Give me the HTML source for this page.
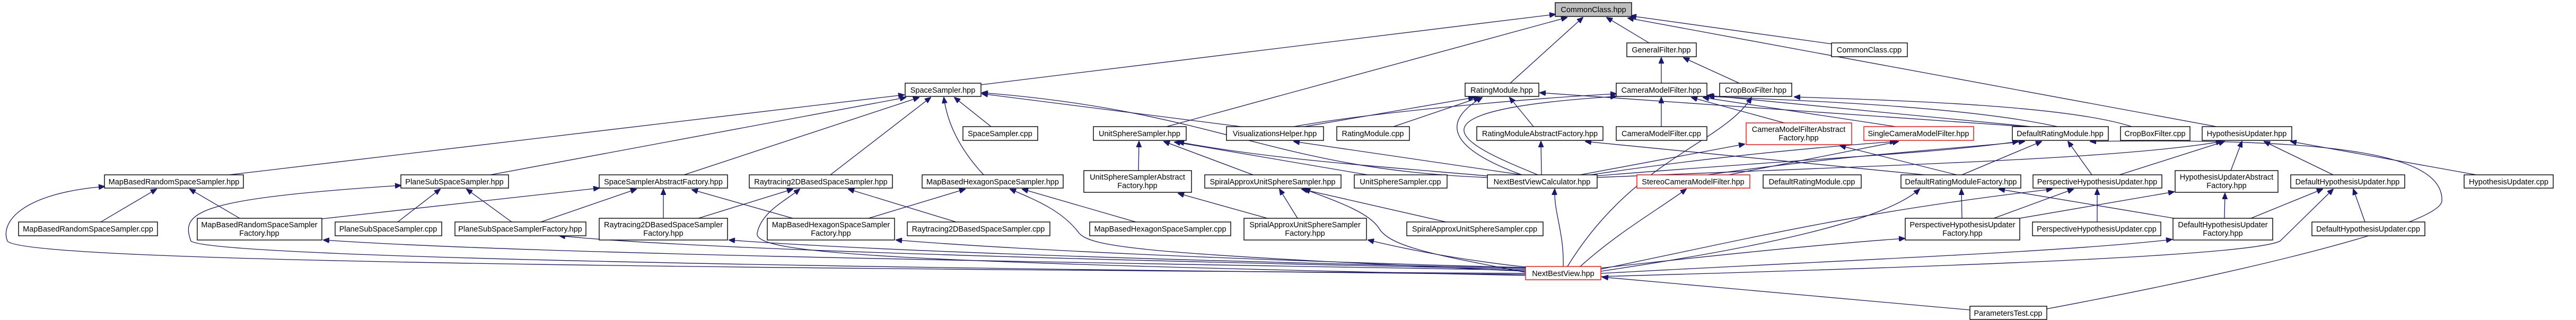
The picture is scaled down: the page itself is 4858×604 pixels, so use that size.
<!DOCTYPE html>
<html><head><meta charset="utf-8"><style>
html,body{margin:0;padding:0;background:#fff;}
svg{display:block;}
text{font-family:"Liberation Sans",sans-serif;font-size:14.5px;fill:#000;}
.e{fill:none;stroke:#191970;stroke-width:1.3;marker-end:url(#a);}
.n{fill:#fff;stroke:#000;stroke-width:1.4;}
.r{fill:#fff;stroke:#ff0000;stroke-width:1.4;}
</style></head><body>
<svg width="4858" height="604" viewBox="0 0 4858 604" xmlns="http://www.w3.org/2000/svg">
<defs><marker id="a" markerWidth="12" markerHeight="10" refX="11" refY="5" orient="auto" markerUnits="userSpaceOnUse"><path d="M0,0 L12,5 L0,10 z" fill="#191970" stroke="#191970"/></marker></defs>
<g>
<!-- CommonClass -->
<path class="e" d="M1850,160 L2933,27"/>
<path class="e" d="M2200,239 L2955,33"/>
<path class="e" d="M2848,157 L2985,33"/>
<path class="e" d="M3110,81 L3030,33"/>
<path class="e" d="M3455,83 L3075,30"/>
<path class="e" d="M4180,239 L3070,34"/>
<!-- GeneralFilter -->
<path class="e" d="M3133,157 L3133,109"/>
<path class="e" d="M3280,157 L3175,109"/>
<!-- SpaceSampler -->
<path class="e" d="M432,330 L1705,179"/>
<path class="e" d="M925,330 L1708,184"/>
<path class="e" d="M1290,330 L1733,184"/>
<path class="e" d="M1566,330 L1755,184"/>
<path class="e" d="M1855,330 Q1790,260 1780,184"/>
<path class="e" d="M1869,239 L1800,184"/>
<path class="e" d="M2340,239 L1852,177"/>
<path class="e" d="M2805,335 C2400,320 2300,210 1852,175"/>
<!-- MBRSS -->
<path class="e" d="M190,419 L295,357"/>
<path class="e" d="M452,412 L358,357"/>
<path class="e" d="M2877,516 C1000,505 40,490 14,455 C0,420 40,365 197,352"/>
<!-- PSSS -->
<path class="e" d="M750,419 L830,357"/>
<path class="e" d="M965,419 L880,357"/>
<path class="e" d="M2877,518 C1500,505 400,485 360,455 C340,400 370,375 756,350"/>
<!-- SSAF -->
<path class="e" d="M607,413 L1130,355"/>
<path class="e" d="M1020,419 L1200,357"/>
<path class="e" d="M1251,412 L1251,357"/>
<path class="e" d="M1495,412 L1305,358"/>
<!-- R2D -->
<path class="e" d="M1317,412 L1495,357"/>
<path class="e" d="M1803,419 L1600,357"/>
<path class="e" d="M2877,520 C1700,495 1420,480 1428,440 C1436,400 1480,380 1508,357"/>
<!-- MBH -->
<path class="e" d="M1638,412 L1820,357"/>
<path class="e" d="M2142,419 L1928,357"/>
<path class="e" d="M2877,512 C2200,480 2060,470 2035,440 C2005,400 1960,380 1905,357"/>
<!-- USS -->
<path class="e" d="M2147,322 L2148,267"/>
<path class="e" d="M2363,330 L2195,267"/>
<path class="e" d="M2579,330 L2215,268"/>
<path class="e" d="M2805,332 C2550,310 2400,300 2222,268"/>
<path class="e" d="M2390,412 L2222,365"/>
<!-- SAUSS -->
<path class="e" d="M2447,412 L2413,357"/>
<path class="e" d="M2727,419 L2455,357"/>
<path class="e" d="M2877,514 C2700,480 2620,465 2600,430 C2580,400 2520,380 2460,357"/>
<!-- RatingModule -->
<path class="e" d="M2460,239 L2780,184"/>
<path class="e" d="M2628,239 L2790,184"/>
<path class="e" d="M2892,239 L2847,184"/>
<path class="e" d="M2870,330 C2760,290 2700,240 2795,184"/>
<path class="e" d="M3820,239 L2904,175"/>
<!-- CameraModelFilter -->
<path class="e" d="M2440,239 C2600,210 2900,185 3048,177"/>
<path class="e" d="M3133,239 L3133,184"/>
<path class="e" d="M3365,232 L3190,184"/>
<path class="e" d="M3575,239 L3212,184"/>
<path class="e" d="M2900,330 C2780,280 2600,210 3048,182"/>
<path class="e" d="M3830,239 L3220,180"/>
<path class="e" d="M3880,239 C3700,200 3400,190 3222,182"/>
<!-- CropBox -->
<path class="e" d="M4020,239 C3900,200 3600,190 3384,183"/>
<path class="e" d="M2956,503 C3080,300 3250,270 3303,184"/>
<!-- RMAF / VH -->
<path class="e" d="M2907,330 L2906,267"/>
<path class="e" d="M3630,330 L2990,267"/>
<path class="e" d="M2870,330 L2440,267"/>
<!-- CMFAF / SCMF -->
<path class="e" d="M2980,330 L3290,272"/>
<path class="e" d="M3690,330 L3470,275"/>
<path class="e" d="M3260,330 L3580,267"/>
<path class="e" d="M3000,330 C3200,300 3400,280 3575,267"/>
<!-- NBVC / Stereo -->
<path class="e" d="M2948,503 C2950,440 2930,400 2932,357"/>
<path class="e" d="M2980,503 C3050,440 3120,400 3180,357"/>
<!-- DRM -->
<path class="e" d="M3700,330 L3850,267"/>
<path class="e" d="M3945,330 L3900,267"/>
<path class="e" d="M3010,332 C3400,300 3650,290 3806,267"/>
<path class="e" d="M3220,330 C3500,290 3700,280 3818,267"/>
<path class="e" d="M3860,583 C4300,500 4600,420 4605,380 C4610,290 4400,260 3942,267"/>
<!-- HU -->
<path class="e" d="M3997,330 L4195,267"/>
<path class="e" d="M4207,322 L4228,267"/>
<path class="e" d="M4400,330 L4270,267"/>
<path class="e" d="M4670,330 L4320,267"/>
<path class="e" d="M3012,335 C3600,310 4000,300 4190,267"/>
<!-- DRMF -->
<path class="e" d="M3700,412 L3699,357"/>
<path class="e" d="M4100,412 L3770,357"/>
<path class="e" d="M3019,512 C3300,470 3550,420 3620,357"/>
<!-- PHU -->
<path class="e" d="M3760,412 L3910,357"/>
<path class="e" d="M3955,419 L3955,357"/>
<path class="e" d="M3019,508 C3300,450 3500,400 3870,357"/>
<!-- HUAF -->
<path class="e" d="M4195,412 L4196,365"/>
<path class="e" d="M3809,412 L4100,362"/>
<!-- DHU -->
<path class="e" d="M4245,412 L4380,357"/>
<path class="e" d="M4460,419 L4438,357"/>
<path class="e" d="M3019,522 C3800,500 4250,480 4300,455 L4400,357"/>
<!-- NBV -> factories -->
<path class="e" d="M2877,510 C2000,495 1000,480 610,453"/>
<path class="e" d="M2877,508 C2000,490 1300,470 1055,445"/>
<path class="e" d="M2877,506 C2100,490 1600,470 1375,453"/>
<path class="e" d="M2877,505 C2300,490 1900,470 1690,453"/>
<path class="e" d="M2877,504 C2750,490 2650,470 2580,453"/>
<path class="e" d="M3019,506 C3250,480 3450,460 3592,450"/>
<path class="e" d="M3019,516 C3500,490 3900,475 4096,452"/>
<path class="e" d="M3715,585 L3022,523"/>
</g>
<g>
<rect class="n" x="2933" y="5" width="144" height="26" style="fill:#bfbfbf"/><text x="3005" y="23" text-anchor="middle">CommonClass.hpp</text>
<rect class="n" x="3068" y="81" width="131" height="26"/><text x="3133" y="99" text-anchor="middle">GeneralFilter.hpp</text>
<rect class="n" x="3454" y="81" width="143" height="26"/><text x="3525" y="99" text-anchor="middle">CommonClass.cpp</text>
<rect class="n" x="1707" y="157" width="143" height="25"/><text x="1778" y="175" text-anchor="middle">SpaceSampler.hpp</text>
<rect class="n" x="2763" y="157" width="139" height="25"/><text x="2832" y="175" text-anchor="middle">RatingModule.hpp</text>
<rect class="n" x="3048" y="157" width="171" height="25"/><text x="3133" y="175" text-anchor="middle">CameraModelFilter.hpp</text>
<rect class="n" x="3243" y="157" width="136" height="25"/><text x="3311" y="175" text-anchor="middle">CropBoxFilter.hpp</text>
<rect class="n" x="1816" y="239" width="141" height="26"/><text x="1886" y="257" text-anchor="middle">SpaceSampler.cpp</text>
<rect class="n" x="2062" y="239" width="175" height="26"/><text x="2149" y="257" text-anchor="middle">UnitSphereSampler.hpp</text>
<rect class="n" x="2313" y="239" width="183" height="26"/><text x="2404" y="257" text-anchor="middle">VisualizationsHelper.hpp</text>
<rect class="n" x="2521" y="239" width="137" height="26"/><text x="2589" y="257" text-anchor="middle">RatingModule.cpp</text>
<rect class="n" x="2785" y="239" width="238" height="26"/><text x="2904" y="257" text-anchor="middle">RatingModuleAbstractFactory.hpp</text>
<rect class="n" x="3048" y="239" width="171" height="26"/><text x="3133" y="257" text-anchor="middle">CameraModelFilter.cpp</text>
<rect class="r" x="3293" y="232" width="199" height="41"/><text x="3392" y="249" text-anchor="middle">CameraModelFilterAbstract</text><text x="3392" y="265" text-anchor="middle">Factory.hpp</text>
<rect class="r" x="3515" y="239" width="207" height="26"/><text x="3618" y="257" text-anchor="middle">SingleCameraModelFilter.hpp</text>
<rect class="n" x="3795" y="239" width="181" height="26"/><text x="3885" y="257" text-anchor="middle">DefaultRatingModule.hpp</text>
<rect class="n" x="3999" y="239" width="131" height="26"/><text x="4064" y="257" text-anchor="middle">CropBoxFilter.cpp</text>
<rect class="n" x="4153" y="239" width="169" height="26"/><text x="4237" y="257" text-anchor="middle">HypothesisUpdater.hpp</text>

<rect class="n" x="197" y="330" width="262" height="25"/><text x="328" y="348" text-anchor="middle">MapBasedRandomSpaceSampler.hpp</text>
<rect class="n" x="756" y="330" width="203" height="25"/><text x="857" y="348" text-anchor="middle">PlaneSubSpaceSampler.hpp</text>
<rect class="n" x="1130" y="330" width="242" height="25"/><text x="1251" y="348" text-anchor="middle">SpaceSamplerAbstractFactory.hpp</text>
<rect class="n" x="1413" y="330" width="270" height="25"/><text x="1548" y="348" text-anchor="middle">Raytracing2DBasedSpaceSampler.hpp</text>
<rect class="n" x="1739" y="330" width="266" height="25"/><text x="1872" y="348" text-anchor="middle">MapBasedHexagonSpaceSampler.hpp</text>
<rect class="n" x="2044" y="322" width="203" height="41"/><text x="2145" y="339" text-anchor="middle">UnitSphereSamplerAbstract</text><text x="2145" y="355" text-anchor="middle">Factory.hpp</text>
<rect class="n" x="2272" y="330" width="257" height="25"/><text x="2400" y="348" text-anchor="middle">SpiralApproxUnitSphereSampler.hpp</text>
<rect class="n" x="2554" y="330" width="175" height="25"/><text x="2641" y="348" text-anchor="middle">UnitSphereSampler.cpp</text>
<rect class="n" x="2805" y="330" width="207" height="25"/><text x="2908" y="348" text-anchor="middle">NextBestViewCalculator.hpp</text>
<rect class="r" x="3087" y="330" width="213" height="25"/><text x="3193" y="348" text-anchor="middle">StereoCameraModelFilter.hpp</text>
<rect class="n" x="3325" y="330" width="185" height="25"/><text x="3417" y="348" text-anchor="middle">DefaultRatingModule.cpp</text>
<rect class="n" x="3585" y="330" width="226" height="25"/><text x="3698" y="348" text-anchor="middle">DefaultRatingModuleFactory.hpp</text>
<rect class="n" x="3834" y="330" width="243" height="25"/><text x="3955" y="348" text-anchor="middle">PerspectiveHypothesisUpdater.hpp</text>
<rect class="n" x="4102" y="322" width="194" height="41"/><text x="4199" y="339" text-anchor="middle">HypothesisUpdaterAbstract</text><text x="4199" y="355" text-anchor="middle">Factory.hpp</text>
<rect class="n" x="4320" y="330" width="215" height="25"/><text x="4427" y="348" text-anchor="middle">DefaultHypothesisUpdater.hpp</text>
<rect class="n" x="4647" y="330" width="168" height="25"/><text x="4731" y="348" text-anchor="middle">HypothesisUpdater.cpp</text>

<rect class="n" x="35" y="419" width="262" height="26"/><text x="166" y="437" text-anchor="middle">MapBasedRandomSpaceSampler.cpp</text>
<rect class="n" x="372" y="412" width="235" height="41"/><text x="489" y="429" text-anchor="middle">MapBasedRandomSpaceSampler</text><text x="489" y="445" text-anchor="middle">Factory.hpp</text>
<rect class="n" x="632" y="419" width="201" height="26"/><text x="732" y="437" text-anchor="middle">PlaneSubSpaceSampler.cpp</text>
<rect class="n" x="858" y="419" width="247" height="26"/><text x="981" y="437" text-anchor="middle">PlaneSubSpaceSamplerFactory.hpp</text>
<rect class="n" x="1130" y="412" width="242" height="41"/><text x="1251" y="429" text-anchor="middle">Raytracing2DBasedSpaceSampler</text><text x="1251" y="445" text-anchor="middle">Factory.hpp</text>
<rect class="n" x="1447" y="412" width="240" height="41"/><text x="1567" y="429" text-anchor="middle">MapBasedHexagonSpaceSampler</text><text x="1567" y="445" text-anchor="middle">Factory.hpp</text>
<rect class="n" x="1711" y="419" width="269" height="26"/><text x="1845" y="437" text-anchor="middle">Raytracing2DBasedSpaceSampler.cpp</text>
<rect class="n" x="2055" y="419" width="266" height="26"/><text x="2188" y="437" text-anchor="middle">MapBasedHexagonSpaceSampler.cpp</text>
<rect class="n" x="2346" y="412" width="231" height="41"/><text x="2461" y="429" text-anchor="middle">SprialApproxUnitSphereSampler</text><text x="2461" y="445" text-anchor="middle">Factory.hpp</text>
<rect class="n" x="2653" y="419" width="257" height="26"/><text x="2781" y="437" text-anchor="middle">SpiralApproxUnitSphereSampler.cpp</text>
<rect class="n" x="3593" y="412" width="216" height="41"/><text x="3701" y="429" text-anchor="middle">PerspectiveHypothesisUpdater</text><text x="3701" y="445" text-anchor="middle">Factory.hpp</text>
<rect class="n" x="3833" y="419" width="242" height="26"/><text x="3954" y="437" text-anchor="middle">PerspectiveHypothesisUpdater.cpp</text>
<rect class="n" x="4098" y="412" width="188" height="41"/><text x="4192" y="429" text-anchor="middle">DefaultHypothesisUpdater</text><text x="4192" y="445" text-anchor="middle">Factory.hpp</text>
<rect class="n" x="4360" y="419" width="213" height="26"/><text x="4466" y="437" text-anchor="middle">DefaultHypothesisUpdater.cpp</text>

<rect class="r" x="2877" y="503" width="142" height="25"/><text x="2948" y="521" text-anchor="middle">NextBestView.hpp</text>
<rect class="n" x="3715" y="578" width="145" height="25"/><text x="3787" y="596" text-anchor="middle">ParametersTest.cpp</text>
</g>
</svg>
</body></html>
